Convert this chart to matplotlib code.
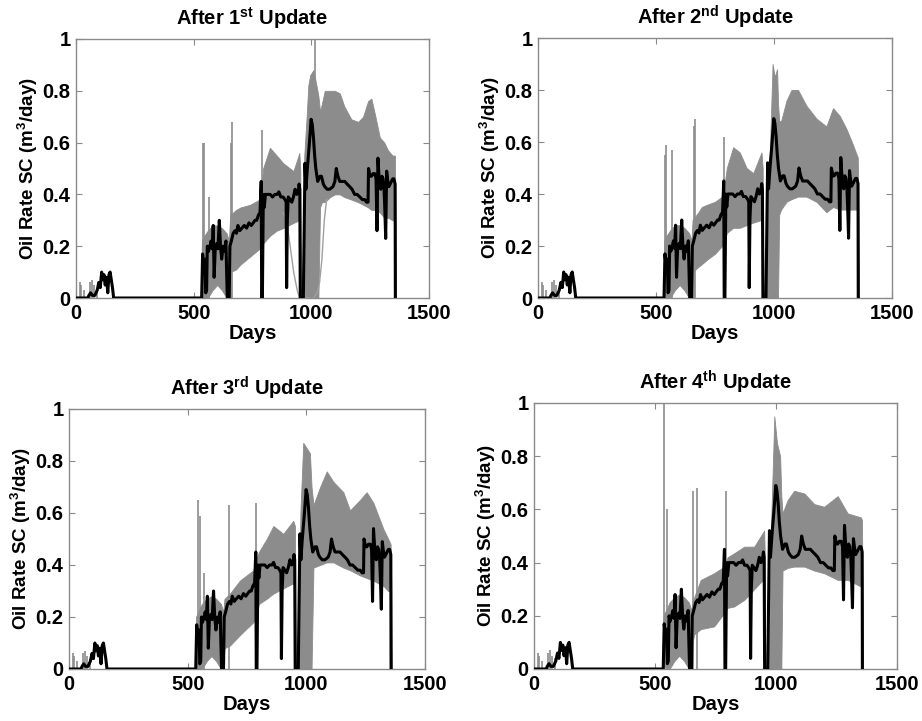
import matplotlib
matplotlib.use("Agg")
import matplotlib.pyplot as plt

plt.rcParams['font.family'] = ['Liberation Sans', 'DejaVu Sans']
plt.rcParams['font.weight'] = 'bold'
plt.rcParams['mathtext.fontset'] = 'custom'
plt.rcParams['mathtext.rm'] = 'Liberation Sans:bold'
plt.rcParams['mathtext.bf'] = 'Liberation Sans:bold'
plt.rcParams['mathtext.it'] = 'Liberation Sans:bold'

# ---------------- data ----------------
titles = [r"After 1$^{\mathbf{st}}$ Update", r"After 2$^{\mathbf{nd}}$ Update",
          r"After 3$^{\mathbf{rd}}$ Update", r"After 4$^{\mathbf{th}}$ Update"]
x_ticks = [0, 500, 1000, 1500]
y_ticks = [0, 0.2, 0.4, 0.6, 0.8, 1.0]
y_tick_labels = ["0", "0.2", "0.4", "0.6", "0.8", "1"]

# observed oil rate (black)
obs_days = [0, 50, 55, 62, 70, 80, 90, 97, 103, 109, 113, 119, 124, 130, 135, 140, 145, 150, 155, 160,
            534, 538, 543, 548, 551, 555, 558, 563, 569, 574, 579, 583, 587, 592, 598, 603, 609, 614, 619,
            625, 631, 637, 640, 643, 651, 654, 660, 668, 676, 682, 688, 696, 705, 715, 725, 735, 745, 753,
            761, 768, 775, 782, 787, 789, 792, 796, 800, 805, 815, 825, 835, 845, 855, 862, 870, 880, 888,
            893, 895, 898, 902, 910, 917, 924, 931, 938, 944, 948, 951, 953, 966, 973, 977, 983, 992, 999,
            1004, 1009, 1014, 1019, 1027, 1037, 1043, 1051, 1057, 1067, 1078, 1092, 1100, 1106, 1113, 1121,
            1131, 1142, 1152, 1163, 1173, 1184, 1195, 1206, 1217, 1227, 1235, 1241, 1243, 1250, 1255, 1262,
            1270, 1275, 1279, 1283, 1289, 1295, 1300, 1305, 1309, 1312, 1316, 1320, 1325, 1329, 1335, 1340,
            1346, 1351, 1356, 1357]
obs_rate = [0, 0, 0.01, 0.02, 0.01, 0.01, 0.03, 0.06, 0.04, 0.10, 0.07, 0.09, 0.05, 0.08, 0.02, 0.09, 0.10, 0.07, 0.04, 0.0,
            0.0, 0.17, 0.12, 0.15, 0.02, 0.03, 0.20, 0.18, 0.20, 0.22, 0.19, 0.28, 0.08, 0.20, 0.21, 0.19, 0.30, 0.20, 0.15,
            0.20, 0.18, 0.22, 0.10, 0.0, 0.0, 0.20, 0.22, 0.25, 0.26, 0.25, 0.28, 0.26, 0.27, 0.28, 0.27, 0.29, 0.28, 0.29,
            0.30, 0.30, 0.32, 0.33, 0.45, 0.0, 0.0, 0.40, 0.35, 0.40, 0.40, 0.40, 0.39, 0.40, 0.40, 0.41, 0.39, 0.39, 0.38,
            0.37, 0.04, 0.30, 0.39, 0.38, 0.37, 0.39, 0.42, 0.40, 0.41, 0.44, 0.42, 0.0, 0.0, 0.52, 0.42, 0.50, 0.60, 0.69,
            0.67, 0.62, 0.55, 0.50, 0.45, 0.47, 0.47, 0.44, 0.43, 0.42, 0.42, 0.43, 0.45, 0.50, 0.47, 0.45,
            0.45, 0.45, 0.44, 0.43, 0.42, 0.40, 0.40, 0.39, 0.38, 0.38, 0.37, 0.37, 0.50, 0.47, 0.47, 0.48,
            0.48, 0.46, 0.26, 0.54, 0.45, 0.42, 0.47, 0.46, 0.42, 0.35, 0.23, 0.49, 0.45, 0.43, 0.44, 0.45,
            0.46, 0.46, 0.44, 0.0]

# early small ensemble spikes (common)
early_spike_days = [15, 22, 35, 58, 66, 75, 88]
early_spike_vals = [0.06, 0.05, 0.03, 0.06, 0.07, 0.05, 0.04]

# ensemble envelopes, panel 1..4
ens1_days = [530, 535, 545, 560, 580, 600, 620, 640, 650, 655, 680, 700, 740, 780, 788, 795, 824, 853, 881, 924,
             949, 953, 956, 966, 970, 980, 987, 995, 1009, 1022, 1030, 1037, 1045, 1057, 1080, 1100, 1121, 1140,
             1170, 1199, 1220, 1241, 1255, 1270, 1291, 1310, 1326, 1345, 1355, 1358, 1360]
ens1_upper = [0, 0.22, 0.24, 0.26, 0.28, 0.28, 0.27, 0.25, 0.22, 0.32, 0.34, 0.35, 0.36, 0.38, 0.42, 0.50, 0.58,
              0.55, 0.52, 0.49, 0.56, 0.50, 0, 0, 0.55, 0.70, 0.82, 0.86, 0.88, 0.82, 0.78, 0.72, 0.75, 0.80,
              0.80, 0.80, 0.79, 0.74, 0.69, 0.68, 0.70, 0.76, 0.77, 0.71, 0.62, 0.60, 0.57, 0.55, 0.55, 0.30, 0]
ens1_lower = [0, 0.02, 0, 0, 0.03, 0.05, 0.03, 0, 0, 0.10, 0.11, 0.13, 0.16, 0.19, 0.20, 0.21, 0.24, 0.26, 0.27,
              0.29, 0.30, 0.20, 0, 0, 0, 0, 0, 0, 0, 0, 0, 0.35, 0.37, 0.37, 0.39, 0.40, 0.40, 0.39, 0.38, 0.37,
              0.36, 0.35, 0.34, 0.34, 0.33, 0.31, 0.31, 0.30, 0.30, 0.0, 0]
ens1_spike_days = [538, 544, 565, 657, 664, 789, 1016]
ens1_spike_vals = [0.60, 0.60, 0.39, 0.60, 0.68, 0.65, 1.0]
ens1_thin_days = [880, 895, 910, 925, 940, 950, 960, 1010, 1025, 1035, 1045, 1055, 1065]
ens1_thin_vals = [0.33, 0.30, 0.20, 0.10, 0.03, 0.0, 0.0, 0.0, 0.02, 0.06, 0.15, 0.30, 0.38]

ens2_days = [530, 535, 545, 560, 580, 600, 620, 640, 650, 655, 680, 694, 720, 750, 780, 788, 800, 827, 855, 884,
             912, 947, 952, 955, 968, 975, 982, 994, 1003, 1013, 1017, 1022, 1030, 1053, 1074, 1102, 1137, 1180,
             1222, 1250, 1279, 1307, 1330, 1355, 1358, 1360]
ens2_upper = [0, 0.22, 0.24, 0.26, 0.28, 0.28, 0.27, 0.25, 0.22, 0.30, 0.33, 0.35, 0.36, 0.37, 0.39, 0.42, 0.50,
              0.58, 0.56, 0.50, 0.48, 0.56, 0.50, 0, 0, 0.50, 0.55, 0.90, 0.85, 0.88, 0.75, 0.68, 0.68, 0.76,
              0.80, 0.80, 0.74, 0.69, 0.66, 0.73, 0.70, 0.65, 0.60, 0.54, 0.30, 0]
ens2_lower = [0, 0.02, 0, 0, 0.03, 0.05, 0.03, 0, 0, 0.10, 0.12, 0.13, 0.15, 0.17, 0.20, 0.21, 0.25, 0.27, 0.27,
              0.28, 0.29, 0.30, 0.20, 0, 0, 0, 0, 0, 0, 0, 0, 0.32, 0.34, 0.37, 0.38, 0.39, 0.39, 0.37, 0.33,
              0.35, 0.34, 0.34, 0.34, 0.34, 0, 0]
ens2_spike_days = [540, 544, 566, 660, 665, 787]
ens2_spike_vals = [0.55, 0.59, 0.57, 0.66, 0.69, 0.62]

ens3_days = [530, 535, 545, 560, 580, 600, 620, 640, 650, 655, 678, 720, 777, 788, 800, 833, 861, 903, 945, 952,
             955, 966, 975, 987, 1001, 1015, 1022, 1030, 1058, 1086, 1114, 1156, 1184, 1226, 1254, 1282, 1324,
             1345, 1355, 1358, 1360]
ens3_upper = [0, 0.20, 0.22, 0.25, 0.27, 0.28, 0.27, 0.25, 0.22, 0.27, 0.29, 0.34, 0.38, 0.42, 0.45, 0.50, 0.55,
              0.52, 0.57, 0.55, 0, 0, 0.60, 0.87, 0.85, 0.83, 0.70, 0.63, 0.70, 0.76, 0.72, 0.68, 0.61, 0.65,
              0.68, 0.64, 0.54, 0.50, 0.48, 0.30, 0]
ens3_lower = [0, 0.02, 0, 0, 0.03, 0.05, 0.03, 0, 0, 0.08, 0.09, 0.13, 0.18, 0.20, 0.25, 0.27, 0.29, 0.31, 0.33,
              0.30, 0, 0, 0, 0, 0, 0, 0, 0.39, 0.40, 0.41, 0.41, 0.39, 0.38, 0.36, 0.35, 0.34, 0.32, 0.30,
              0.30, 0, 0]
ens3_spike_days = [545, 552, 569, 673, 790]
ens3_spike_vals = [0.65, 0.59, 0.37, 0.63, 0.64]

ens4_days = [530, 535, 545, 560, 580, 600, 620, 640, 650, 655, 662, 689, 744, 786, 800, 827, 869, 910, 951, 953,
             956, 970, 980, 993, 1004, 1017, 1022, 1027, 1048, 1075, 1117, 1158, 1199, 1255, 1296, 1351, 1355,
             1358, 1360]
ens4_upper = [0, 0.20, 0.22, 0.25, 0.27, 0.28, 0.27, 0.25, 0.22, 0.25, 0.27, 0.335, 0.36, 0.385, 0.42, 0.435,
              0.46, 0.46, 0.52, 0.45, 0, 0, 0.55, 0.95, 0.85, 0.80, 0.65, 0.585, 0.635, 0.67, 0.66, 0.62,
              0.61, 0.65, 0.585, 0.57, 0.56, 0.30, 0]
ens4_lower = [0, 0.02, 0, 0, 0.03, 0.05, 0.03, 0, 0, 0.10, 0.13, 0.15, 0.16, 0.21, 0.23, 0.235, 0.26, 0.30,
              0.34, 0.30, 0, 0, 0, 0, 0, 0, 0, 0.37, 0.38, 0.385, 0.385, 0.37, 0.36, 0.335, 0.335, 0.31,
              0.31, 0, 0]
ens4_spike_days = [538, 551, 655, 673, 793, 1020]
ens4_spike_vals = [1.0, 0.60, 0.67, 0.68, 0.67, 0.62]

ens_days = [ens1_days, ens2_days, ens3_days, ens4_days]
ens_upper = [ens1_upper, ens2_upper, ens3_upper, ens4_upper]
ens_lower = [ens1_lower, ens2_lower, ens3_lower, ens4_lower]
spike_days = [ens1_spike_days, ens2_spike_days, ens3_spike_days, ens4_spike_days]
spike_vals = [ens1_spike_vals, ens2_spike_vals, ens3_spike_vals, ens4_spike_vals]

# ---------------- layout ----------------
W, H = 922, 721
axes_px = [(76, 39, 429, 298), (538, 38, 892, 298), (69, 409, 425, 669), (534, 403, 897, 669)]

GRAY = '#8c8c8c'
SPINE = '#8a8a8a'

fig = plt.figure(figsize=(W / 100, H / 100), dpi=100)
for i, (l, t, r, b) in enumerate(axes_px):
    ax = fig.add_axes([l / W, (H - b) / H, (r - l) / W, (b - t) / H])
    ax.fill_between(ens_days[i], ens_lower[i], ens_upper[i], color=GRAY, linewidth=0.6,
                    edgecolor=GRAY, zorder=1)
    ax.vlines(spike_days[i], 0, spike_vals[i], color=GRAY, linewidth=1.2, zorder=1)
    ax.vlines(early_spike_days, 0, early_spike_vals, color=GRAY, linewidth=1.2, zorder=1)
    if i == 0:
        ax.plot(ens1_thin_days, ens1_thin_vals, color='#a0a0a0', linewidth=1.0, zorder=1)
    ax.plot(obs_days, obs_rate, color='black', linewidth=2.2, zorder=3)

    ax.set_xlim(0, 1500)
    ax.set_ylim(0, 1)
    ax.set_xticks(x_ticks)
    ax.set_xticklabels([str(v) for v in x_ticks])
    ax.set_yticks(y_ticks)
    ax.set_yticklabels(y_tick_labels)
    ax.tick_params(direction='in', top=True, right=True, length=4, width=0.8,
                   color=SPINE, labelsize=14.5, pad=4)
    for lab in ax.get_xticklabels() + ax.get_yticklabels():
        lab.set_fontweight('bold')
    for s in ax.spines.values():
        s.set_color(SPINE)
        s.set_linewidth(1.0)
    ax.set_title(titles[i], fontsize=14.5, fontweight='bold', pad=10)
    ax.set_xlabel('Days', fontsize=14.5, fontweight='bold', labelpad=1)
    ax.set_ylabel(r'Oil Rate SC (m$^{3}$/day)', fontsize=13.5, fontweight='bold', labelpad=2)

fig.savefig('out.png', dpi=100)
